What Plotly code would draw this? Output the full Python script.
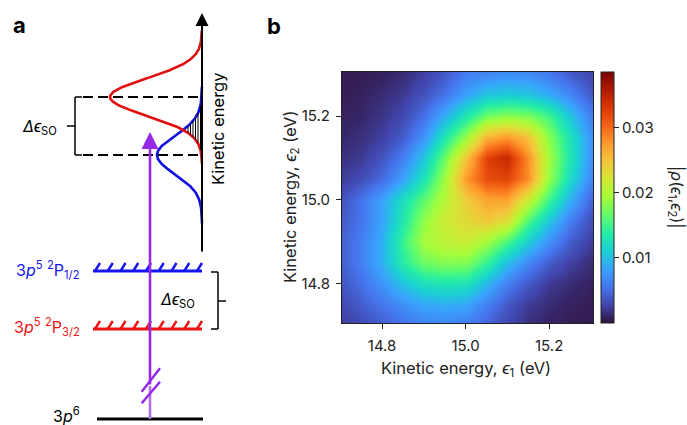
import numpy as np
import plotly.graph_objects as go

W, H = 687, 425

# ---------------- panel b: joint kinetic-energy distribution ----------------
E1 = [14.70, 14.75, 14.80, 14.85, 14.90, 14.95, 15.00, 15.05, 15.10, 15.15, 15.20, 15.25, 15.30]
E2 = [14.70, 14.75, 14.80, 14.85, 14.90, 14.95, 15.00, 15.05, 15.10, 15.15, 15.20, 15.25, 15.30]
# |rho(e1,e2)| in units of 1e-3 ; rows follow E2 (low -> high), columns follow E1
RHO_MILLI = [
    [2.2, 3.0, 4.1, 5.2, 6.1, 6.4, 5.8, 4.4, 2.8, 1.6, 0.9, 0.6, 0.6],
    [2.8, 4.1, 5.5, 7.1, 8.5, 8.9, 8.5, 6.1, 3.9, 2.2, 1.4, 0.9, 0.6],
    [3.6, 5.2, 7.4, 10.2, 12.4, 13.0, 12.8, 9.4, 6.1, 3.9, 2.2, 1.4, 0.9],
    [4.1, 6.1, 9.1, 13.8, 17.0, 18.0, 17.8, 14.5, 9.9, 6.6, 4.1, 2.5, 1.4],
    [4.1, 6.1, 9.1, 14.8, 19.5, 20.8, 21.6, 19.2, 15.4, 11.0, 7.1, 4.1, 2.5],
    [3.9, 5.5, 8.3, 13.4, 18.6, 21.8, 23.2, 24.6, 22.8, 15.7, 10.5, 6.1, 3.3],
    [3.3, 5.5, 8.3, 12.4, 16.4, 20.5, 24.2, 27.0, 27.0, 21.6, 14.9, 9.1, 4.7],
    [2.2, 3.3, 4.9, 8.3, 12.9, 19.3, 27.6, 31.6, 32.3, 28.2, 18.7, 12.1, 6.6],
    [1.6, 2.2, 3.6, 6.1, 10.5, 17.1, 24.9, 32.6, 34.4, 28.2, 19.3, 13.2, 7.4],
    [1.1, 1.6, 2.5, 4.1, 7.4, 13.2, 18.7, 26.0, 27.6, 24.9, 18.2, 12.7, 7.4],
    [0.9, 1.1, 1.9, 3.0, 5.2, 9.1, 13.2, 17.1, 18.2, 17.6, 15.1, 10.5, 6.1],
    [0.6, 0.9, 1.4, 2.2, 3.6, 5.5, 8.3, 10.5, 11.0, 10.5, 8.9, 6.6, 4.1],
    [0.6, 0.6, 0.9, 1.4, 2.5, 3.9, 6.0, 6.6, 7.0, 6.8, 5.8, 4.1, 2.8],
]
RHO_MAX = 0.0386
CBAR_TICKS = [0.01, 0.02, 0.03]
X_TICKS = [14.8, 15.0, 15.2]
Y_TICKS = [14.8, 15.0, 15.2]
X_RANGE = [14.704, 15.305]
Y_RANGE = [14.706, 15.305]

# ---------------- panel a: level scheme (pixel layout units) ----------------
AXIS_X, AXIS_BOTTOM, AXIS_TOP = 202, 253, 13
# (centre, amplitude, width) of the two photoelectron lines
RED_LINE = (97, 92, 18.5)
BLUE_LINE = (155, 45, 19.0)
LEVELS = [  # (y, x_start, x_end, colour, hatched)
    (419, 97, 203, "black", False),
    (329, 93, 202, "rgb(235,20,20)", True),
    (271, 93, 202, "rgb(20,20,245)", True),
]
PHOTON_X, PHOTON_TIP, PHOTON_BASE, PHOTON_SPLIT = 150, 132, 419, 386

FONT = "Inter, Liberation Sans, Arial, sans-serif"
INK = "#222222"
RED = "rgb(225,15,15)"
BLUE = "rgb(15,15,225)"
PURPLE = "rgb(150,40,230)"
PURPLE_LIGHT = "rgb(175,110,230)"

fig = go.Figure()

z = np.array(RHO_MILLI) * 1e-3
fig.add_trace(go.Heatmap(
    x=E1, y=E2, z=z, colorscale="Turbo", zmin=0, zmax=RHO_MAX, zsmooth="best",
    xaxis="x", yaxis="y", hoverinfo="skip",
    colorbar=dict(
        thickness=13, thicknessmode="pixels", len=251, lenmode="pixels",
        x=601 / W, xanchor="left", xpad=0, y=1 - 197.5 / H, yanchor="middle", ypad=0,
        outlinewidth=1, outlinecolor=INK, ticks="outside", ticklen=5, tickcolor=INK,
        tickvals=CBAR_TICKS, ticktext=[f"{v:.2f}" for v in CBAR_TICKS],
        tickfont=dict(family=FONT, size=15, color=INK),
    ),
))


def pa(x, y, color, width, **kw):
    return go.Scatter(x=x, y=y, xaxis="x2", yaxis="y2", mode="lines",
                      line=dict(color=color, width=width), hoverinfo="skip",
                      showlegend=False, **kw)


def offset(yy, line):
    c, a, s = line
    return a * np.exp(-((yy - c) ** 2) / (2 * s ** 2))


# Gaussian photoelectron lines
for line, col in ((BLUE_LINE, BLUE), (RED_LINE, RED)):
    c, a, s = line
    yy = np.linspace(c - 3.6 * s, c + 3.6 * s, 300)
    fig.add_trace(pa(AXIS_X - offset(yy, line), yy, col, 2.6))

# hatching of the overlap
yy = np.linspace(90, 175, 2000)
mn = np.minimum(offset(yy, RED_LINE), offset(yy, BLUE_LINE))
hx, hy = [], []
for xh in np.arange(188.0, 202.0, 2.5):
    ok = mn >= (AXIS_X - xh)
    if ok.any():
        ys = yy[ok]
        hx += [xh, xh, None]
        hy += [ys.min(), ys.max(), None]
fig.add_trace(pa(hx, hy, "black", 1))

# energy levels with hatches
for (ly, x0, x1, col, hatched) in LEVELS:
    fig.add_trace(pa([x0, x1], [ly, ly], col, 3))
    if hatched:
        tx, ty = [], []
        for xs in np.linspace(x0 + 2, x1 - 5, 9):
            tx += [xs, xs + 5, None]
            ty += [ly, ly - 8, None]
        fig.add_trace(pa(tx, ty, col, 2.5))

# photon line (lower part lighter) and break marks
fig.add_trace(pa([PHOTON_X, PHOTON_X], [PHOTON_BASE, PHOTON_SPLIT], PURPLE_LIGHT, 2.6))
fig.add_trace(pa([141.7, 160, None, 141.7, 160], [391.7, 368.3, None, 403.3, 381.7], PURPLE, 2.5))

shapes = []
for yd in (RED_LINE[0], BLUE_LINE[0]):
    shapes.append(dict(type="line", xref="x2", yref="y2", x0=83, x1=200, y0=yd, y1=yd,
                       line=dict(color="black", width=2, dash="10px,5px")))
br = dict(color="black", width=1.5)
shapes += [
    dict(type="line", xref="x2", yref="y2", x0=75, x1=75, y0=97, y1=155, line=br),
    dict(type="line", xref="x2", yref="y2", x0=75, x1=82, y0=97, y1=97, line=br),
    dict(type="line", xref="x2", yref="y2", x0=75, x1=82, y0=155, y1=155, line=br),
    dict(type="line", xref="x2", yref="y2", x0=67, x1=75, y0=126, y1=126, line=br),
    dict(type="line", xref="x2", yref="y2", x0=218, x1=218, y0=272, y1=329, line=br),
    dict(type="line", xref="x2", yref="y2", x0=211, x1=218, y0=272, y1=272, line=br),
    dict(type="line", xref="x2", yref="y2", x0=211, x1=218, y0=329, y1=329, line=br),
    dict(type="line", xref="x2", yref="y2", x0=218, x1=226, y0=301, y1=301, line=br),
]

ann = []
ann.append(dict(xref="x2", yref="y2", axref="x2", ayref="y2", x=AXIS_X, y=AXIS_TOP,
                ax=AXIS_X, ay=AXIS_BOTTOM, text="", showarrow=True, arrowhead=2,
                arrowsize=1.3, arrowwidth=2, arrowcolor="black", standoff=0))
ann.append(dict(xref="x2", yref="y2", axref="x2", ayref="y2", x=PHOTON_X, y=PHOTON_TIP,
                ax=PHOTON_X, ay=PHOTON_SPLIT, text="", showarrow=True, arrowhead=2,
                arrowsize=1.3, arrowwidth=2.6, arrowcolor=PURPLE, standoff=0))

f = lambda size, color="black": dict(family=FONT, size=size, color=color)
C = dict(showarrow=False, xanchor="center", yanchor="middle")
ann += [
    dict(xref="x2", yref="y2", x=19, y=25, text="<b>a</b>", font=f(22), **C),
    dict(xref="x2", yref="y2", x=218, y=129, text="Kinetic energy", textangle=-90,
         font=f(16.5), **C),
    dict(xref="x2", yref="y2", x=59, y=127, xanchor="right", yanchor="middle",
         text="<i>Δϵ</i><sub>SO</sub>", showarrow=False, font=f(16)),
    dict(xref="x2", yref="y2", x=177, y=300,
         text="<i>Δϵ</i><sub>SO</sub>", font=f(16), **C),
    dict(xref="x2", yref="y2", x=82, y=270, xanchor="right", yanchor="middle",
         text="3<i>p</i><sup>5</sup> <sup>2</sup>P<sub>1/2</sub>", showarrow=False,
         font=f(16, "rgb(20,20,245)")),
    dict(xref="x2", yref="y2", x=82, y=327, xanchor="right", yanchor="middle",
         text="3<i>p</i><sup>5</sup> <sup>2</sup>P<sub>3/2</sub>", showarrow=False,
         font=f(16, "rgb(235,20,20)")),
    dict(xref="x2", yref="y2", x=82, y=415, xanchor="right", yanchor="middle",
         text="3<i>p</i><sup>6</sup>", showarrow=False, font=f(16)),
    dict(xref="paper", yref="paper", x=274 / W, y=1 - 26 / H, text="<b>b</b>",
         font=f(22), **C),
    dict(xref="paper", yref="paper", x=466 / W, y=1 - 369 / H,
         text="Kinetic energy, <i>ϵ</i><sub>1</sub> (eV)", font=f(16.5, INK), **C),
    dict(xref="paper", yref="paper", x=291 / W, y=1 - 197 / H, textangle=-90,
         text="Kinetic energy, <i>ϵ</i><sub>2</sub> (eV)", font=f(16.5, INK), **C),
    dict(xref="paper", yref="paper", x=676 / W, y=1 - 197 / H, textangle=90,
         text="|<i>ρ</i>(<i>ϵ</i><sub>1</sub>,<i>ϵ</i><sub>2</sub>)|", font=f(16, INK), **C),
]

axis_common = dict(showgrid=False, zeroline=False, showline=True, mirror=True,
                   linecolor=INK, linewidth=1, ticks="outside", ticklen=5, tickcolor=INK,
                   tickfont=dict(family=FONT, size=15, color=INK), fixedrange=True)

fig.update_layout(
    width=W, height=H, margin=dict(l=0, r=0, t=0, b=0),
    paper_bgcolor="white", plot_bgcolor="white",
    xaxis=dict(domain=[342 / W, 593 / W], range=X_RANGE, tickvals=X_TICKS,
               ticktext=[f"{v:.1f}" for v in X_TICKS], anchor="y",
               ticklabelstandoff=4, **axis_common),
    yaxis=dict(domain=[1 - 323 / H, 1 - 72 / H], range=Y_RANGE, tickvals=Y_TICKS,
               ticktext=[f"{v:.1f}" for v in Y_TICKS], anchor="x",
               ticklabelstandoff=3, **axis_common),
    xaxis2=dict(domain=[0, 254 / W], range=[0, 254], visible=False, anchor="y2", fixedrange=True),
    yaxis2=dict(domain=[0, 1], range=[H, 0], visible=False, anchor="x2", fixedrange=True),
    shapes=shapes, annotations=ann, showlegend=False,
)

fig.write_html("out.html", config={"displayModeBar": False},
               post_script="document.body.style.margin='0px';")
